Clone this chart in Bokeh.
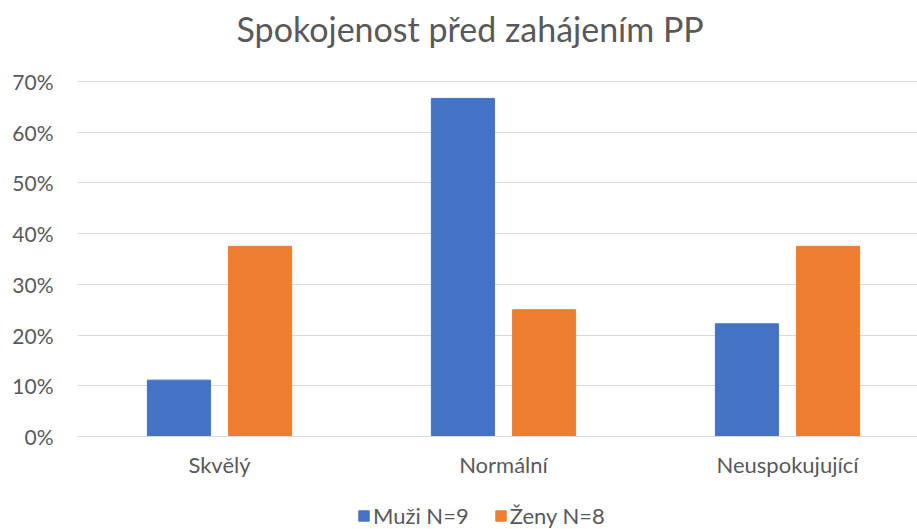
import numpy as np
from bokeh.plotting import figure
from bokeh.models import (ColumnDataSource, Range1d, FixedTicker, NumeralTickFormatter,
                          Legend, LegendItem)
from bokeh.transform import dodge
from bokeh.embed import file_html
from bokeh.resources import INLINE

categories = ["Skvělý", "Normální", "Neuspokujující"]
muzi = [1/9, 6/9, 2/9]
zeny = [3/8, 2/8, 3/8]
series_names = ["Muži N=9", "Ženy N=8"]
y_ticks = [0, 0.1, 0.2, 0.3, 0.4, 0.5, 0.6, 0.7]

FONT = "Lato"
TXT = "#595959"

W, H = 917, 529
LEFT, TOP = 77, 51
Y0_PX, Y70_PX = 436, 81          # screen rows of 0 % and 70 %
CAT_PX = 284                     # width of one category
ppu = (Y0_PX - Y70_PX) / 0.7
y_start = -(H - Y0_PX) / ppu
y_end = 0.7 + (Y70_PX - TOP) / ppu
x_end = (W - LEFT) / CAT_PX

pos = (np.arange(len(categories)) + 0.5).tolist()
src = ColumnDataSource(dict(x=pos, cat=categories, muzi=muzi, zeny=zeny))

p = figure(width=W, height=H, output_backend="svg", toolbar_location=None,
           x_range=Range1d(0, x_end), y_range=Range1d(y_start, y_end),
           min_border_left=LEFT, min_border_right=0, min_border_top=TOP, min_border_bottom=0)
p.outline_line_color = None
p.background_fill_color = "white"
p.border_fill_color = "white"

r1 = p.vbar(x=dodge("x", -0.143, range=p.x_range), top="muzi", width=0.222, source=src,
            fill_color="#4472C4", line_color="#4472C4")
r2 = p.vbar(x=dodge("x", 0.143, range=p.x_range), top="zeny", width=0.222, source=src,
            fill_color="#ED7D31", line_color="#ED7D31")

p.title.text = "Spokojenost před zahájením PP"
p.title.text_font = FONT
p.title.text_font_size = "34px"
p.title.text_font_style = "normal"
p.title.text_color = TXT
p.title.align = "left"
p.title.offset = 159
p.title.standoff = 6

p.xgrid.grid_line_color = None
p.ygrid.ticker = FixedTicker(ticks=y_ticks)
p.ygrid.grid_line_color = "#D9D9D9"
p.ygrid.grid_line_width = 1

p.yaxis.ticker = FixedTicker(ticks=y_ticks)
p.yaxis.formatter = NumeralTickFormatter(format="0%")
p.yaxis.axis_line_color = None
p.yaxis.major_tick_line_color = None
p.yaxis.minor_tick_line_color = None
p.yaxis.major_tick_out = 0
p.yaxis.major_tick_in = 0
p.yaxis.major_label_standoff = 24
p.yaxis.major_label_text_font = FONT
p.yaxis.major_label_text_font_size = "21px"
p.yaxis.major_label_text_color = TXT

p.xaxis.fixed_location = 0
p.xaxis.ticker = FixedTicker(ticks=pos)
p.xaxis.major_label_overrides = {v: c for v, c in zip(pos, categories)}
p.xaxis.axis_line_color = "#D9D9D9"
p.xaxis.major_tick_line_color = None
p.xaxis.minor_tick_line_color = None
p.xaxis.major_tick_out = 0
p.xaxis.major_tick_in = 0
p.xaxis.major_label_standoff = 14
p.xaxis.major_label_text_font = FONT
p.xaxis.major_label_text_font_size = "22px"
p.xaxis.major_label_text_color = TXT

legend = Legend(items=[LegendItem(label=series_names[0], renderers=[r1]),
                       LegendItem(label=series_names[1], renderers=[r2])],
                location=(280, 0), orientation="horizontal",
                glyph_width=13, glyph_height=13, label_standoff=3, spacing=25,
                padding=0, margin=0, border_line_color=None, background_fill_alpha=0,
                label_text_font=FONT, label_text_font_size="22px", label_text_color=TXT)
p.add_layout(legend, "center")

open("out.html", "w").write(file_html(p, INLINE))
